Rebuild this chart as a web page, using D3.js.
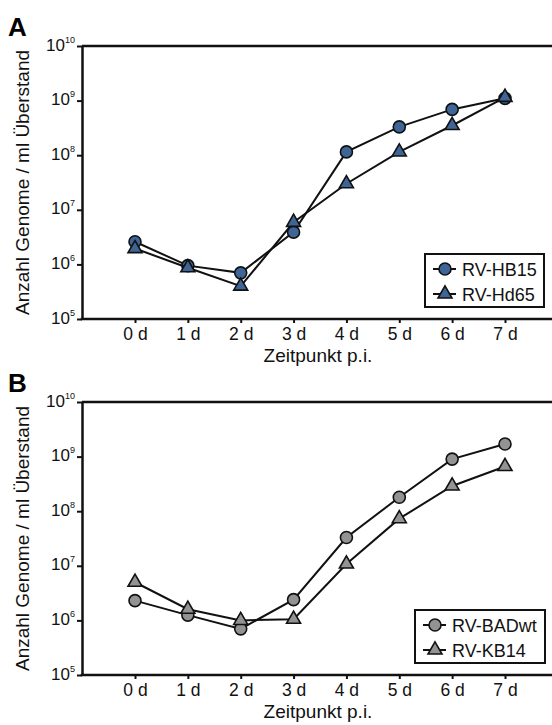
<!DOCTYPE html>
<html>
<head>
<meta charset="utf-8">
<script src="https://cdn.jsdelivr.net/npm/d3@7"></script>
<style>
    body { margin: 0; background: #fff; }
    text { font-family: "Liberation Sans", Arial, sans-serif; }
</style>
</head>
<body>
<div class="svg"></div>
<script>
// Tage post infectionem
var days = ['0 d', '1 d', '2 d', '3 d', '4 d', '5 d', '6 d', '7 d'];
var yTicks = [1e5, 1e6, 1e7, 1e8, 1e9, 1e10];

// Panel A
var hb15 = [2.6e6, 9.5e5, 7.0e5, 3.9e6, 1.15e8, 3.3e8, 6.9e8, 1.1e9];
var hd65 = [1.95e6, 8.7e5, 4.0e5, 5.9e6, 3.0e7, 1.15e8, 3.5e8, 1.15e9];

// Panel B
var badwt = [2.3e6, 1.25e6, 7.0e5, 2.4e6, 3.3e7, 1.8e8, 9.0e8, 1.7e9];
var kb14 = [5.0e6, 1.6e6, 1.0e6, 1.05e6, 1.08e7, 7.3e7, 2.9e8, 6.6e8];

var width = 552;
var height = 725;

var svg = d3.select('div.svg')
    .append('svg')
    .attr('width', width)
    .attr('height', height)

function panel(opts) {
    var top = opts.top, bottom = opts.bottom;
    var left = 82, right = 552;

    var x = d3.scaleLinear()
        .domain([0, days.length - 1])
        .range([135, 505]);

    var y = d3.scaleLog()
        .domain([1e5, 1e10])
        .range([bottom, top]);

    var g = svg.append('g');

    // panel letter
    g.append('text')
        .attr('x', 8)
        .attr('y', top - 10)
        .attr('font-size', 26)
        .attr('font-weight', 'bold')
        .text(opts.letter);

    // top line
    g.append('line')
        .attr('x1', left).attr('x2', right)
        .attr('y1', y(1e10)).attr('y2', y(1e10))
        .attr('stroke', '#111')
        .attr('stroke-width', 2.5);

    // y axis
    var yAxis = g.append('g')
        .attr('transform', 'translate(' + left + ',0)')
        .call(d3.axisLeft(y).tickValues(yTicks).tickSize(5).tickSizeOuter(0).tickFormat(''));
    yAxis.select('.domain').attr('stroke', '#111').attr('stroke-width', 2.5);
    yAxis.selectAll('.tick line').attr('stroke', '#111').attr('stroke-width', 2);
    yAxis.selectAll('.tick').append('text')
        .attr('x', -7)
        .attr('y', 4)
        .attr('text-anchor', 'end')
        .attr('fill', '#111')
        .attr('font-size', 17)
        .each(function (d) {
            var t = d3.select(this);
            t.append('tspan').text('10');
            t.append('tspan')
                .attr('dy', -8)
                .attr('font-size', 9)
                .text(Math.round(Math.log10(d)));
        });

    // x axis
    var xAxis = g.append('g')
        .attr('transform', 'translate(0,' + bottom + ')')
        .call(d3.axisBottom(x).tickValues(d3.range(days.length)).tickSize(4).tickSizeOuter(0).tickFormat(i => days[i]));
    xAxis.select('.domain').remove();
    xAxis.append('line')
        .attr('x1', left - 1.25).attr('x2', right)
        .attr('stroke', '#111')
        .attr('stroke-width', 2.5);
    xAxis.selectAll('.tick line').attr('stroke', '#111').attr('stroke-width', 2);
    xAxis.selectAll('.tick text')
        .attr('y', 9)
        .attr('font-size', 17.5)
        .attr('font-family', '"Liberation Sans", Arial, sans-serif')
        .attr('fill', '#111');

    // axis titles
    g.append('text')
        .attr('x', 318)
        .attr('y', bottom + 43)
        .attr('text-anchor', 'middle')
        .attr('font-size', 19)
        .attr('fill', '#111')
        .text('Zeitpunkt p.i.');

    g.append('text')
        .attr('transform', 'translate(29,' + ((top + bottom) / 2) + ') rotate(-90)')
        .attr('text-anchor', 'middle')
        .attr('font-size', 19)
        .attr('fill', '#111')
        .text('Anzahl Genome / ml Überstand');

    var line = d3.line()
        .x((d, i) => x(i))
        .y(d => y(d));

    var tri = d3.symbol().type(d3.symbolTriangle).size(85);

    opts.series.forEach(function (s) {
        g.append('path')
            .datum(s.values)
            .attr('d', line)
            .attr('fill', 'none')
            .attr('stroke', '#111')
            .attr('stroke-width', 2);

        var m = g.append('g');
        if (s.shape == 'circle') {
            m.selectAll('circle')
                .data(s.values)
                .enter()
                .append('circle')
                .attr('cx', (d, i) => x(i))
                .attr('cy', d => y(d))
                .attr('r', 6)
                .attr('fill', opts.color)
                .attr('stroke', '#111')
                .attr('stroke-width', 1.6);
        } else {
            m.selectAll('path')
                .data(s.values)
                .enter()
                .append('path')
                .attr('d', tri)
                .attr('transform', (d, i) => 'translate(' + x(i) + ',' + y(d) + ')')
                .attr('fill', opts.color)
                .attr('stroke', '#111')
                .attr('stroke-width', 1.6);
        }
    });

    // legend
    var lg = g.append('g')
        .attr('transform', 'translate(' + opts.legendX + ',' + (bottom - 12 - 53) + ')');
    lg.append('rect')
        .attr('width', opts.legendW)
        .attr('height', 53)
        .attr('fill', '#fff')
        .attr('stroke', '#111')
        .attr('stroke-width', 2);
    opts.series.forEach(function (s, i) {
        var row = lg.append('g')
            .attr('transform', 'translate(0,' + (15 + i * 25) + ')');
        row.append('line')
            .attr('x1', 8).attr('x2', 31)
            .attr('stroke', '#111')
            .attr('stroke-width', 2);
        if (s.shape == 'circle') {
            row.append('circle')
                .attr('cx', 20).attr('r', 6)
                .attr('fill', opts.color)
                .attr('stroke', '#111')
                .attr('stroke-width', 1.6);
        } else {
            row.append('path')
                .attr('d', tri)
                .attr('transform', 'translate(20,0)')
                .attr('fill', opts.color)
                .attr('stroke', '#111')
                .attr('stroke-width', 1.6);
        }
        row.append('text')
            .attr('x', 37)
            .attr('y', 6.5)
            .attr('font-size', 18)
            .attr('fill', '#111')
            .text(s.name);
    });
}

panel({
    letter: 'A', top: 46, bottom: 319, color: '#3f6597',
    legendX: 425, legendW: 119,
    series: [
        { name: 'RV-HB15', shape: 'circle', values: hb15 },
        { name: 'RV-Hd65', shape: 'triangle', values: hd65 }
    ]
});

panel({
    letter: 'B', top: 402, bottom: 675, color: '#939393',
    legendX: 415, legendW: 130,
    series: [
        { name: 'RV-BADwt', shape: 'circle', values: badwt },
        { name: 'RV-KB14', shape: 'triangle', values: kb14 }
    ]
});
</script>
</body>
</html>
